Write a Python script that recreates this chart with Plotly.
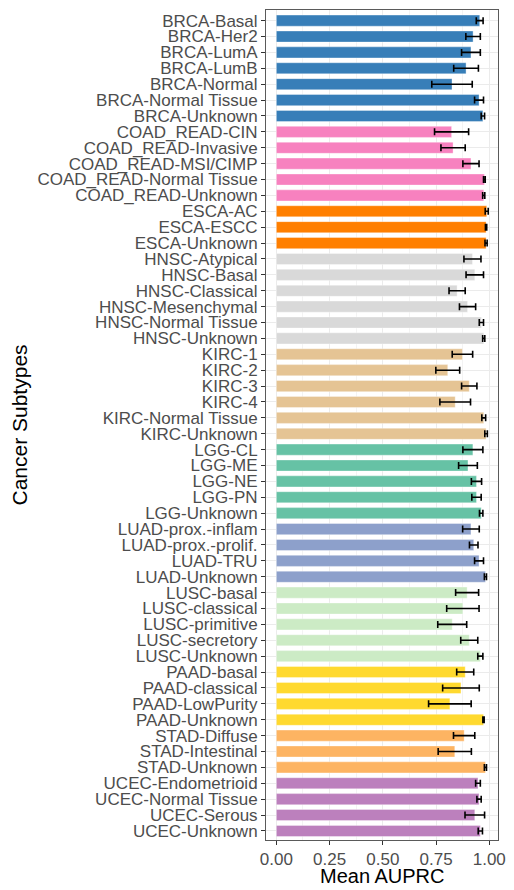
import plotly.graph_objects as go

# Subtype labels, grouped by cancer type (top to bottom)
subtypes = [
    "BRCA-Basal", "BRCA-Her2", "BRCA-LumA", "BRCA-LumB", "BRCA-Normal",
    "BRCA-Normal Tissue", "BRCA-Unknown",
    "COAD_READ-CIN", "COAD_READ-Invasive", "COAD_READ-MSI/CIMP",
    "COAD_READ-Normal Tissue", "COAD_READ-Unknown",
    "ESCA-AC", "ESCA-ESCC", "ESCA-Unknown",
    "HNSC-Atypical", "HNSC-Basal", "HNSC-Classical", "HNSC-Mesenchymal",
    "HNSC-Normal Tissue", "HNSC-Unknown",
    "KIRC-1", "KIRC-2", "KIRC-3", "KIRC-4", "KIRC-Normal Tissue", "KIRC-Unknown",
    "LGG-CL", "LGG-ME", "LGG-NE", "LGG-PN", "LGG-Unknown",
    "LUAD-prox.-inflam", "LUAD-prox.-prolif.", "LUAD-TRU", "LUAD-Unknown",
    "LUSC-basal", "LUSC-classical", "LUSC-primitive", "LUSC-secretory", "LUSC-Unknown",
    "PAAD-basal", "PAAD-classical", "PAAD-LowPurity", "PAAD-Unknown",
    "STAD-Diffuse", "STAD-Intestinal", "STAD-Unknown",
    "UCEC-Endometrioid", "UCEC-Normal Tissue", "UCEC-Serous", "UCEC-Unknown",
]

# Mean AUPRC per subtype
mean_auprc = [
    0.955, 0.924, 0.914, 0.891, 0.825, 0.952, 0.970,
    0.823, 0.830, 0.914, 0.977, 0.974,
    0.988, 0.985, 0.985,
    0.921, 0.932, 0.849, 0.898, 0.963, 0.974,
    0.874, 0.805, 0.906, 0.840, 0.974, 0.985,
    0.923, 0.900, 0.940, 0.940, 0.962,
    0.914, 0.927, 0.952, 0.982,
    0.896, 0.876, 0.826, 0.906, 0.958,
    0.887, 0.867, 0.815, 0.973,
    0.882, 0.838, 0.982,
    0.947, 0.952, 0.932, 0.958,
]

# Standard deviation of AUPRC per subtype
sd_auprc = [
    0.016, 0.034, 0.044, 0.058, 0.095, 0.021, 0.008,
    0.080, 0.057, 0.038, 0.004, 0.005,
    0.007, 0.003, 0.005,
    0.040, 0.041, 0.038, 0.038, 0.010, 0.005,
    0.048, 0.056, 0.036, 0.072, 0.009, 0.006,
    0.047, 0.044, 0.024, 0.022, 0.008,
    0.039, 0.020, 0.021, 0.005,
    0.054, 0.076, 0.068, 0.040, 0.012,
    0.040, 0.086, 0.100, 0.003,
    0.050, 0.078, 0.005,
    0.011, 0.010, 0.046, 0.010,
]

cancer_colors = {
    "BRCA": "#377EB8",
    "COAD_READ": "#F781BF",
    "ESCA": "#FF7F00",
    "HNSC": "#D9D9D9",
    "KIRC": "#E5C494",
    "LGG": "#66C2A5",
    "LUAD": "#8DA0CB",
    "LUSC": "#CCEBC5",
    "PAAD": "#FFD92F",
    "STAD": "#FDB462",
    "UCEC": "#BC80BD",
}

bar_colors = [cancer_colors[s.split("-")[0]] for s in subtypes]

FONT = "Liberation Sans, Arial, sans-serif"

fig = go.Figure()
fig.add_trace(go.Bar(
    y=subtypes,
    x=mean_auprc,
    orientation="h",
    width=0.7,
    marker=dict(color=bar_colors, line=dict(color="rgba(255,255,255,0.6)", width=0.6)),
    error_x=dict(type="data", array=sd_auprc, color="black", thickness=1.6, width=3.5),
    showlegend=False,
))

fig.update_layout(
    width=514,
    height=890,
    margin=dict(l=266, r=8, t=10, b=50),
    paper_bgcolor="white",
    plot_bgcolor="white",
    font=dict(family=FONT, color="#4D4D4D"),
    xaxis=dict(
        range=[-0.0486, 1.041],
        tickmode="array",
        tickvals=[0, 0.25, 0.5, 0.75, 1.0],
        ticktext=["0.00", "0.25", "0.50", "0.75", "1.00"],
        tickfont=dict(size=17, color="#4D4D4D"),
        ticks="outside",
        ticklen=4,
        tickcolor="#333333",
        showgrid=True,
        gridcolor="#EBEBEB",
        gridwidth=1.1,
        minor=dict(tickvals=[0.125, 0.375, 0.625, 0.875], showgrid=True,
                   gridcolor="#F3F3F3", gridwidth=0.6),
        showline=True,
        mirror=True,
        linecolor="#5A5A5A",
        linewidth=1,
        zeroline=False,
    ),
    yaxis=dict(
        type="category",
        categoryorder="array",
        categoryarray=subtypes,
        tickmode="array",
        tickvals=subtypes,
        ticktext=subtypes,
        range=[51.57, -0.67],
        tickfont=dict(size=17, color="#4D4D4D"),
        ticks="outside",
        ticklen=4,
        tickcolor="#333333",
        showgrid=True,
        gridcolor="#EBEBEB",
        gridwidth=1.1,
        showline=True,
        mirror=True,
        linecolor="#5A5A5A",
        linewidth=1,
        zeroline=False,
    ),
    annotations=[
        dict(text="Cancer Subtypes", xref="paper", yref="paper",
             x=(10 - 266) / 240, y=0.5, textangle=-90, showarrow=False,
             xanchor="center", yanchor="middle",
             font=dict(size=21, color="black", family=FONT)),
        dict(text="Mean AUPRC", xref="paper", yref="paper",
             x=0.5, y=-(889 - 840) / 830, showarrow=False,
             xanchor="center", yanchor="bottom",
             font=dict(size=20, color="black", family=FONT)),
    ],
)

fig.write_html("out.html")
